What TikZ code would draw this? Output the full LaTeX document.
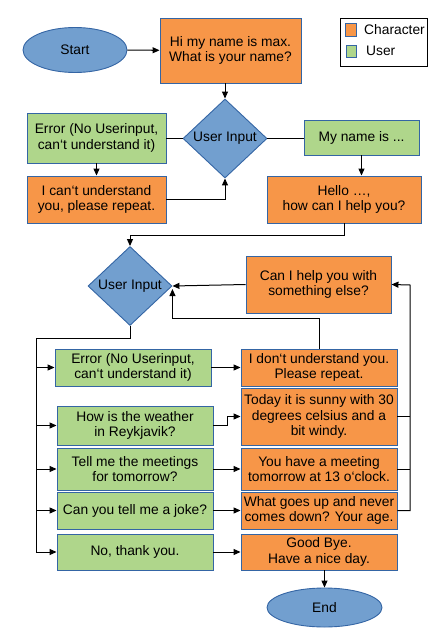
\documentclass[tikz,border=0pt]{standalone}
\usepackage{fontspec}
\setmainfont{Liberation Sans}
\usetikzlibrary{shapes.geometric,arrows.meta}
\definecolor{orng}{RGB}{247,150,72}
\definecolor{grn}{RGB}{175,214,139}
\definecolor{blu}{RGB}{114,159,207}
\definecolor{bdr}{RGB}{52,101,164}
\tikzset{
  base/.style={draw=bdr, line width=0.9pt, align=center, inner sep=0pt, font=\fontsize{13.8}{15.7}\selectfont},
  charbox/.style={base, fill=orng, rectangle},
  userbox/.style={base, fill=grn, rectangle},
  termnode/.style={base, fill=blu, ellipse},
  decide/.style={base, fill=blu, diamond, minimum width=84pt, minimum height=79pt},
  conn/.style={line width=1pt, black},
  arr/.style={conn, -{Triangle[length=7pt,width=6pt]}}
}
\begin{document}
\begin{tikzpicture}[x=1pt,y=-1pt]
\useasboundingbox (0,0) rectangle (445,635);
% legend
\node[draw, line width=0.9pt, minimum width=87pt, minimum height=48pt, inner sep=0pt] (legend) at (383.5,42) {};
\node[charbox, minimum width=11pt, minimum height=13pt] (lc) at (350.5,29.5) {};
\node[userbox, minimum width=10pt, minimum height=12pt] (lu) at (351,51) {};
\node[anchor=west, font=\fontsize{13.8}{16}\selectfont, inner sep=0pt] (lct) at (364,30) {Character};
\node[anchor=west, font=\fontsize{13.8}{16}\selectfont, inner sep=0pt] (lut) at (366,51) {User};
% top part
\node[termnode, minimum width=104pt, minimum height=45pt] (start) at (75,50) {Start};
\node[charbox, minimum width=141pt, minimum height=65pt] (hi) at (230.5,50.5) {Hi my name is max.\\What is your name?};
\node[decide] (d1) at (225,138.5) {User Input};
\node[userbox, minimum width=139pt, minimum height=50pt] (err1) at (96.5,138) {Error (No Userinput,\\can‘t understand it)};
\node[charbox, minimum width=139pt, minimum height=47pt] (icant) at (96.5,199.5) {I can‘t understand\\you, please repeat.};
\node[userbox, minimum width=115pt, minimum height=35pt] (myname) at (361.5,137.5) {My name is ...};
\node[charbox, minimum width=154pt, minimum height=47pt] (hello) at (344,199.5) {Hello …,\\how can I help you?};
% second part
\node[decide] (d2) at (130,286) {User Input};
\node[charbox, minimum width=145pt, minimum height=57pt] (canhelp) at (318.5,284.5) {Can I help you with\\something else?};
\node[userbox, minimum width=156pt, minimum height=37pt] (err2) at (133,367.5) {Error (No Userinput,\\can‘t understand it)};
\node[charbox, minimum width=156pt, minimum height=37pt] (idont) at (319,367.5) {I don‘t understand you.\\Please repeat.};
\node[userbox, minimum width=156pt, minimum height=39pt] (weather) at (135,425.5) {How is the weather\\in Reykjavik?};
\node[charbox, minimum width=156pt, minimum height=57pt] (today) at (319,416.5) {Today it is sunny with 30\\degrees celsius and a\\bit windy.};
\node[userbox, minimum width=156pt, minimum height=42pt] (meet) at (135,469) {Tell me the meetings\\for tomorrow?};
\node[charbox, minimum width=156pt, minimum height=42pt] (meetans) at (319,469) {You have a meeting\\tomorrow at 13 o‘clock.};
\node[userbox, minimum width=156pt, minimum height=37pt] (joke) at (135,510.5) {Can you tell me a joke?};
\node[charbox, minimum width=156pt, minimum height=37pt] (jokeans) at (319,510.5) {What goes up and never\\comes down? Your age.};
\node[userbox, minimum width=156pt, minimum height=36pt] (nothx) at (135,552) {No, thank you.};
\node[charbox, minimum width=156pt, minimum height=36pt] (bye) at (319,552) {Good Bye.\\Have a nice day.};
\node[termnode, minimum width=115pt, minimum height=39pt] (end) at (324.5,607.5) {End};
% coordinates
\coordinate (bus) at (36,338);
\coordinate (rb) at (410,285);
% connectors top
\draw[arr] (start) -- (hi);
\draw[arr] (hi.south -| d1) -- (d1.north);
\draw[conn] (d1.west) -- (err1.east |- d1.west);
\draw[conn] (d1.east) -- (myname.west |- d1.east);
\draw[arr] (err1.south) -- (icant.north);
\draw[arr] (icant.east) -| (d1.south);
\draw[arr] (myname.south) -- (myname.south |- hello.north);
\draw[arr] (hello.south) -- ++(0,12) -| (d2.north);
% connectors second part
\draw[arr] (canhelp.west) -- (d2.east);
\draw[arr] (idont.north) -- ++(0,-30) -| ([yshift=-3pt]d2.east);
\draw[conn] (d2.south) |- (bus) -- (bus |- nothx.west);
\draw[arr] (bus |- err2.west) -- (err2.west);
\draw[arr] (bus |- weather.west) -- (weather.west);
\draw[arr] (bus |- meet.west) -- (meet.west);
\draw[arr] (bus |- joke.west) -- (joke.west);
\draw[arr] (bus |- nothx.west) -- (nothx.west);
\draw[arr] (err2.east) -- (idont.west);
\draw[arr] (weather.east) -- ++(14,0) |- (today.west);
\draw[arr] (meet.east) -- (meetans.west);
\draw[arr] (joke.east) -- (jokeans.west);
\draw[arr] (nothx.east) -- (bye.west);
\draw[conn] (today.east) -- (today.east -| rb);
\draw[conn] (meetans.east) -- (meetans.east -| rb);
\draw[arr] (jokeans.east) -| (rb) -- (canhelp.east);
\draw[arr] (bye.south -| end.north) -- (end.north);
\end{tikzpicture}
\end{document}
